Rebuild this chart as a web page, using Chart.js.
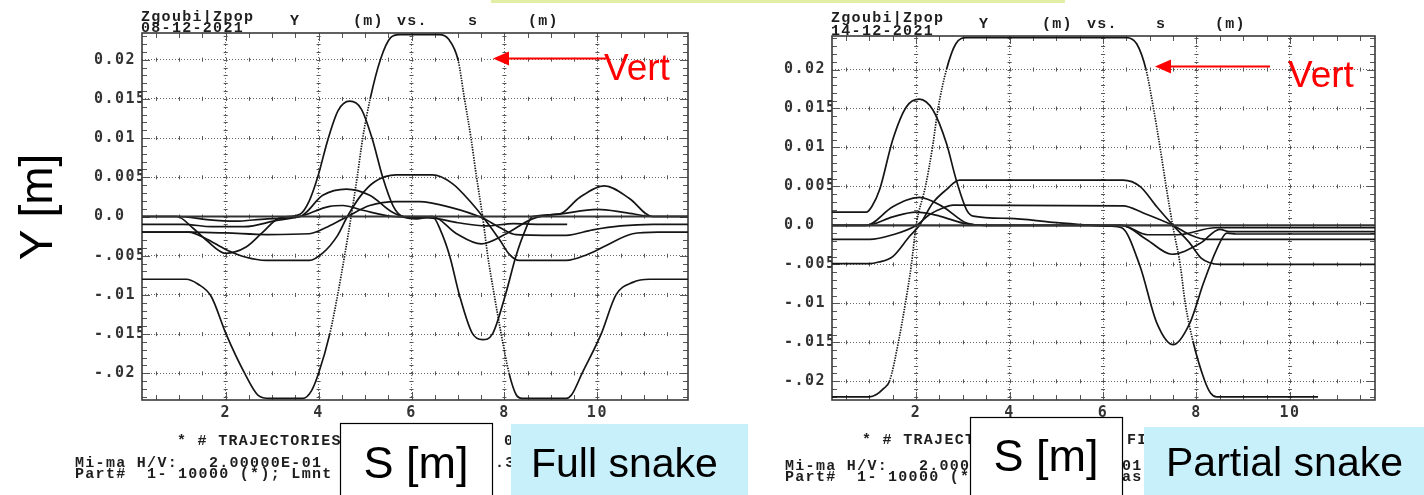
<!DOCTYPE html>
<html>
<head>
<meta charset="utf-8">
<title>Zgoubi Y vs s - full and partial snake</title>
<script src="https://cdn.jsdelivr.net/npm/chart.js@4/dist/chart.umd.min.js"></script>
<style>
    html, body { margin: 0; padding: 0; background: #fff; }
    #page { position: relative; width: 1424px; height: 495px; overflow: hidden; }
    canvas { position: absolute; top: 0; }
    #full { left: 0; }
    #partial { left: 712px; }
    svg { position: absolute; left: 0; top: 0; pointer-events: none; }
    .mono { font-family: "Liberation Mono", "DejaVu Sans Mono", monospace; font-weight: bold; font-size: 15px; letter-spacing: 1.3px; fill: #1e1e1e; white-space: pre; }
    .big { font-family: "Liberation Sans", Arial, sans-serif; fill: #000; }
</style>
</head>
<body>
<div id="page">
    <canvas id="full" width="712" height="440"></canvas>
    <canvas id="partial" width="712" height="440"></canvas>

    <svg width="1424" height="495" xml:space="preserve">
        <rect x="491" y="0" width="574" height="3" fill="#e2eea6"/>

        <!-- headers -->
        <text class="mono" x="141" y="21">Zgoubi|Zpop</text>
        <text class="mono" x="141" y="32">08-12-2021</text>
        <text class="mono" x="290" y="25">Y</text>
        <text class="mono" x="353" y="25">(m)</text>
        <text class="mono" x="397" y="25">vs.</text>
        <text class="mono" x="468" y="25">s</text>
        <text class="mono" x="528" y="25">(m)</text>

        <text class="mono" x="831" y="22">Zgoubi|Zpop</text>
        <text class="mono" x="831" y="35">14-12-2021</text>
        <text class="mono" x="979" y="28">Y</text>
        <text class="mono" x="1042" y="28">(m)</text>
        <text class="mono" x="1087" y="28">vs.</text>
        <text class="mono" x="1156" y="28">s</text>
        <text class="mono" x="1215" y="28">(m)</text>

        <!-- footers -->
        <text class="mono" x="177" y="445">* # TRAJECTORIES</text>
        <text class="mono" x="504" y="445">0</text>
        <text class="mono" x="75" y="467">Mi-ma H/V:   2.00000E-01</text>
        <text class="mono" x="495" y="467">.3</text>
        <text class="mono" x="75" y="478">Part#  1- 10000 (*); Lmnt</text>

        <text class="mono" x="862" y="444">* # TRAJECT</text>
        <text class="mono" x="1127" y="444">FI</text>
        <text class="mono" x="785" y="470">Mi-ma H/V:   2.0000</text>
        <text class="mono" x="1122" y="470">01</text>
        <text class="mono" x="785" y="481">Part#  1- 10000 (*)</text>
        <text class="mono" x="1122" y="481">as</text>

        <!-- annotation boxes -->
        <rect x="340.5" y="423.5" width="152" height="90" fill="#fff" stroke="#000" stroke-width="1.2"/>
        <rect x="970.5" y="417.5" width="152" height="90" fill="#fff" stroke="#000" stroke-width="1.2"/>
        <rect x="511" y="424" width="237" height="80" fill="#c8f0fb"/>
        <rect x="1144" y="427" width="290" height="80" fill="#c8f0fb"/>

        <text class="big" x="416" y="478" font-size="45" text-anchor="middle">S [m]</text>
        <text class="big" x="1046" y="471" font-size="45" text-anchor="middle">S [m]</text>
        <text class="big" x="531" y="477" font-size="41">Full snake</text>
        <text class="big" x="1166" y="476" font-size="41">Partial snake</text>

        <text class="big" font-size="46" text-anchor="middle" transform="translate(52,207) rotate(-90)">Y [m]</text>

        <!-- Vert arrows -->
        <line x1="506" y1="58.5" x2="606" y2="58.5" stroke="#ff0000" stroke-width="2"/>
        <polygon points="493,58.5 509,51.5 509,65.5" fill="#ff0000"/>
        <text class="big" x="604" y="80" font-size="37" style="fill:#ff0000">Vert</text>

        <line x1="1169" y1="66.5" x2="1270" y2="66.5" stroke="#ff0000" stroke-width="2"/>
        <polygon points="1155,66.5 1171,59.5 1171,73.5" fill="#ff0000"/>
        <text class="big" x="1288" y="87" font-size="37" style="fill:#ff0000">Vert</text>
    </svg>
</div>

<script>
// ===========================================================================
// Axis ticks
const sTicks = [2, 4, 6, 8, 10];
const yTicks = [-0.02, -0.015, -0.01, -0.005, 0, 0.005, 0.01, 0.015, 0.02];
const yTickText = ['-.02', '-.015', '-.01', '-.005', '0.0', '0.005', '0.01', '0.015', '0.02'];

// ===========================================================================
// Full snake trajectories, [s (m), Y (m)]
const fullVert = [
    [0.2, -0.008], [1.15, -0.008], [1.4, -0.0086], [1.69, -0.0102], [2.01, -0.015], [2.41, -0.02],
    [2.7, -0.0228], [2.95, -0.0232], [3.66, -0.0232], [3.85, -0.0222], [4.0, -0.02], [4.24, -0.015],
    [4.41, -0.01], [4.56, -0.005], [4.7, 0], [4.83, 0.005], [4.95, 0.01], [5.11, 0.015], [5.33, 0.02],
    [5.55, 0.0228], [5.74, 0.0232], [6.6, 0.0232], [6.8, 0.0226], [7.0, 0.02], [7.14, 0.015],
    [7.28, 0.01], [7.4, 0.005], [7.53, 0], [7.64, -0.005], [7.78, -0.01], [7.93, -0.015], [8.1, -0.02],
    [8.25, -0.0227], [8.38, -0.0232], [9.33, -0.0232], [9.45, -0.0227], [9.67, -0.02], [10.08, -0.015],
    [10.4, -0.01], [10.76, -0.0084], [11.12, -0.008], [11.95, -0.008]
];
const fullPeak = [
    [0.2, 0], [0.95, 0], [1.3, -0.0015], [1.58, -0.003], [2.0, -0.0047], [2.44, -0.0039], [2.8, -0.002],
    [3.15, -0.0002], [3.6, 0.0003], [3.8, 0.002], [3.98, 0.005], [4.2, 0.0098], [4.42, 0.0135],
    [4.67, 0.0147], [4.92, 0.0137], [5.15, 0.01], [5.38, 0.005], [5.6, 0.0014], [5.8, 0], [6.1, -0.0003],
    [6.45, 0], [6.62, -0.0017], [6.82, -0.005], [7.03, -0.01], [7.3, -0.0148], [7.53, -0.0157],
    [7.74, -0.015], [8.02, -0.01], [8.25, -0.005], [8.45, -0.0017], [8.6, 0], [9.18, 0.0003],
    [9.61, 0.0024], [10.15, 0.0039], [10.69, 0.0023], [11.18, 0], [11.95, 0]
];
const fullPlateau = [
    [0.2, -0.002], [1.2, -0.002], [1.6, -0.0029], [2.0, -0.0042], [2.44, -0.0052], [2.87, -0.0056],
    [3.8, -0.0056], [4.1, -0.0046], [4.4, -0.0025], [4.62, 0], [4.9, 0.0026], [5.2, 0.0044],
    [5.67, 0.0053], [6.45, 0.0053], [6.88, 0.0042], [7.31, 0.0016], [7.53, 0], [7.9, -0.003],
    [8.1, -0.0048], [8.32, -0.0056], [9.33, -0.0056], [9.76, -0.0049], [10.19, -0.0037],
    [10.76, -0.0022], [11.3, -0.002], [11.95, -0.002]
];
const fullBumpHi = [
    [0.2, 0], [1.0, 0], [1.6, -0.0004], [2.2, -0.0006], [2.9, -0.0003], [3.6, 0], [4.09, 0.0027],
    [4.6, 0.0035], [5.1, 0.0027], [5.6, 0.0005], [5.85, 0], [6.45, 0], [6.97, -0.0022], [7.5, -0.0035],
    [8.04, -0.0022], [8.6, -0.0003], [9.3, 0.0004], [10.0, 0.0009], [10.6, 0.0005], [11.2, 0], [11.95, 0]
];
const fullBumpLo = [
    [0.2, -0.001], [1.1, -0.001], [1.7, -0.0013], [2.4, -0.0013], [3.1, -0.0005], [3.6, 0],
    [4.24, 0.0013], [4.52, 0.0014], [4.95, 0.0008], [5.6, 0], [6.45, -0.0002], [7.0, -0.0008],
    [7.6, -0.0012], [8.2, -0.0009], [8.7, -0.001], [9.35, -0.001]
];
const fullShelf = [
    [0.2, -0.002], [1.25, -0.002], [2.0, -0.0021], [2.9, -0.0023], [3.8, -0.0022], [4.2, -0.0013],
    [4.62, 0], [5.1, 0.0014], [5.67, 0.0019], [6.17, 0.0019], [6.82, 0.0012], [7.53, -0.0002],
    [7.9, -0.0014], [8.25, -0.0023], [9.33, -0.0024], [9.9, -0.0017], [10.5, -0.0012], [11.2, -0.001],
    [11.95, -0.001]
];
const fullRef = [[0.2, 0], [11.95, 0]];

// ===========================================================================
// Partial snake trajectories, [s (m), Y (m)]
const partVert = [
    [0.2, -0.022], [1.0, -0.022], [1.15, -0.0217], [1.29, -0.021], [1.43, -0.02], [1.62, -0.015],
    [1.77, -0.01], [1.9, -0.005], [2.0, 0], [2.2, 0.005], [2.35, 0.01], [2.47, 0.015], [2.65, 0.02],
    [2.85, 0.0233], [3.08, 0.0241], [6.5, 0.0241], [6.72, 0.0233], [6.92, 0.02], [7.08, 0.015],
    [7.22, 0.01], [7.35, 0.005], [7.49, 0], [7.65, -0.005], [7.76, -0.01], [7.93, -0.015], [8.18, -0.02],
    [8.3, -0.0215], [8.43, -0.022], [10.6, -0.022]
];
const partPeak = [
    [0.2, 0.0017], [0.93, 0.0017], [1.05, 0.0024], [1.22, 0.0046], [1.5, 0.011], [1.79, 0.0152],
    [2.07, 0.0162], [2.36, 0.0148], [2.65, 0.0105], [2.86, 0.0058], [3.08, 0.002], [3.22, 0.0012],
    [4.0, 0.0009], [4.93, 0.0004], [6.15, -0.0001], [6.4, -0.0003], [6.79, -0.0052], [7.15, -0.0125],
    [7.5, -0.0153], [7.86, -0.0125], [8.15, -0.0074], [8.43, -0.0031], [8.65, -0.001], [8.85, -0.0011],
    [11.82, -0.0011]
];
const partPlateauHi = [
    [0.2, -0.0049], [1.0, -0.0049], [1.2, -0.0047], [1.5, -0.004], [1.86, -0.0014], [2.07, 0],
    [2.36, 0.0029], [2.65, 0.0046], [2.93, 0.0058], [6.43, 0.0058], [6.79, 0.005], [7.15, 0.0024],
    [7.5, 0], [7.86, -0.0023], [8.1, -0.0042], [8.29, -0.0048], [8.5, -0.005], [11.82, -0.005]
];
const partPlateauLo = [
    [0.2, -0.0018], [1.0, -0.0018], [1.5, -0.0012], [2.0, 0], [2.29, 0.0014], [2.6, 0.0023],
    [2.79, 0.0026], [6.43, 0.0025], [6.86, 0.0016], [7.5, 0], [7.9, -0.0013], [8.22, -0.0018],
    [11.82, -0.0018]
];
const partBumpHi = [
    [0.2, 0], [0.93, 0], [1.5, 0.0024], [2.07, 0.0036], [2.57, 0.0024], [3.08, 0.0003], [3.5, 0],
    [6.4, 0], [6.93, -0.0018], [7.47, -0.0037], [8.08, -0.0023], [8.5, -0.0005], [8.7, -0.0008],
    [11.82, -0.0008]
];
const partBumpLo = [
    [0.2, 0], [0.93, 0], [1.5, 0.0011], [2.0, 0.0017], [2.5, 0.0012], [3.0, 0.0003], [3.5, 0],
    [6.4, 0], [6.95, -0.0012], [7.6, -0.0012], [8.4, -0.0003], [11.82, -0.0003]
];
const partRef = [[0.2, 0], [11.82, 0]];

// ===========================================================================
const ink = '#151515';
const tickFont = { family: "'DejaVu Sans Mono', monospace", size: 15, weight: 'bold' };

// steep parts of the vertical orbit come out as dots in the original plot
const steepDots = {
    borderDash: (ctx) => {
        const dx = Math.abs(ctx.p1.x - ctx.p0.x);
        const dy = Math.abs(ctx.p1.y - ctx.p0.y);
        return dy > 4 * dx ? [1.4, 1.2] : undefined;
    }
};

const trajectory = (pairs, extra = {}) => ({
    data: pairs.map(([s, y]) => ({ x: s, y: y })),
    showLine: true,
    borderColor: ink,
    borderWidth: 1.7,
    pointRadius: 0,
    cubicInterpolationMode: 'monotone',
    ...extra
});

// frame, minor ticks and the little marks riding on the grid lines
const frame = {
    id: 'frame',
    beforeDatasetsDraw(chart) {
        const { ctx, chartArea: a, scales: { x, y } } = chart;
        ctx.save();
        ctx.strokeStyle = '#555';
        ctx.lineWidth = 1;
        ctx.beginPath();
        for (let k = Math.ceil(x.min * 2); k / 2 <= x.max; k++) {
            const px = Math.round(x.getPixelForValue(k / 2)) + 0.5;
            const len = k % 4 === 0 ? 8 : 5;
            ctx.moveTo(px, a.bottom); ctx.lineTo(px, a.bottom - len);
            ctx.moveTo(px, a.top); ctx.lineTo(px, a.top + len);
            yTicks.forEach((v) => {
                const py = y.getPixelForValue(v);
                ctx.moveTo(px, py - 2); ctx.lineTo(px, py + 2);
            });
        }
        for (let k = Math.ceil(y.min * 1000); k / 1000 <= y.max; k++) {
            const py = Math.round(y.getPixelForValue(k / 1000)) + 0.5;
            const len = k % 5 === 0 ? 8 : 5;
            ctx.moveTo(a.left, py); ctx.lineTo(a.left + len, py);
            ctx.moveTo(a.right, py); ctx.lineTo(a.right - len, py);
            sTicks.forEach((v) => {
                const px = x.getPixelForValue(v);
                ctx.moveTo(px - 2, py); ctx.lineTo(px + 2, py);
            });
        }
        ctx.stroke();
        ctx.strokeStyle = '#3a3a3a';
        ctx.lineWidth = 1.6;
        ctx.strokeRect(a.left, a.top, a.right - a.left, a.bottom - a.top);
        ctx.restore();
    }
};

const spacing = {
    id: 'spacing',
    beforeDraw(chart) { chart.ctx.letterSpacing = '1.5px'; }
};

const panel = (canvas, datasets, view) => new Chart(canvas, {
    type: 'scatter',
    data: { datasets: datasets },
    options: {
        responsive: false,
        animation: false,
        devicePixelRatio: 1,
        layout: { padding: view.padding },
        plugins: { legend: { display: false }, tooltip: { enabled: false } },
        scales: {
            x: {
                type: 'linear',
                min: view.sMin,
                max: view.sMax,
                afterBuildTicks: (scale) => { scale.ticks = sTicks.map((v) => ({ value: v })); },
                afterFit: (scale) => { scale.height = 40; },
                grid: { color: '#6a6a6a', lineWidth: 1, drawTicks: false },
                border: { display: false, dash: [1, 2] },
                ticks: { autoSkip: false, maxRotation: 0, padding: 4, color: '#333', font: tickFont }
            },
            y: {
                type: 'linear',
                min: view.yMin,
                max: view.yMax,
                afterBuildTicks: (scale) => { scale.ticks = yTicks.map((v) => ({ value: v })); },
                afterFit: (scale) => { scale.width = 48; },
                grid: { color: '#6a6a6a', lineWidth: 1, drawTicks: false },
                border: { display: false, dash: [1, 2] },
                ticks: {
                    autoSkip: false,
                    crossAlign: 'far',
                    padding: 0,
                    color: '#333',
                    font: tickFont,
                    callback: (v) => {
                        const i = yTicks.findIndex((t) => Math.abs(t - v) < 1e-9);
                        return i >= 0 ? yTickText[i] : '';
                    }
                }
            }
        }
    },
    plugins: [spacing, frame]
});

// ===========================================================================
panel(document.getElementById('full'), [
    trajectory(fullRef, { borderWidth: 2.2, borderColor: '#333' }),
    trajectory(fullShelf),
    trajectory(fullBumpLo),
    trajectory(fullBumpHi),
    trajectory(fullPlateau),
    trajectory(fullPeak),
    trajectory(fullVert, { segment: steepDots })
], { sMin: 0.2, sMax: 11.95, yMin: -0.0234, yMax: 0.0234, padding: { left: 94, right: 24, top: 33, bottom: 0 } });

panel(document.getElementById('partial'), [
    trajectory(partRef, { borderWidth: 2.2, borderColor: '#333' }),
    trajectory(partBumpLo),
    trajectory(partBumpHi),
    trajectory(partPlateauLo),
    trajectory(partPlateauHi),
    trajectory(partPeak),
    trajectory(partVert, { segment: steepDots })
], { sMin: 0.2, sMax: 11.82, yMin: -0.0224, yMax: 0.0243, padding: { left: 72, right: 49, top: 36, bottom: 0 } });
</script>
</body>
</html>
